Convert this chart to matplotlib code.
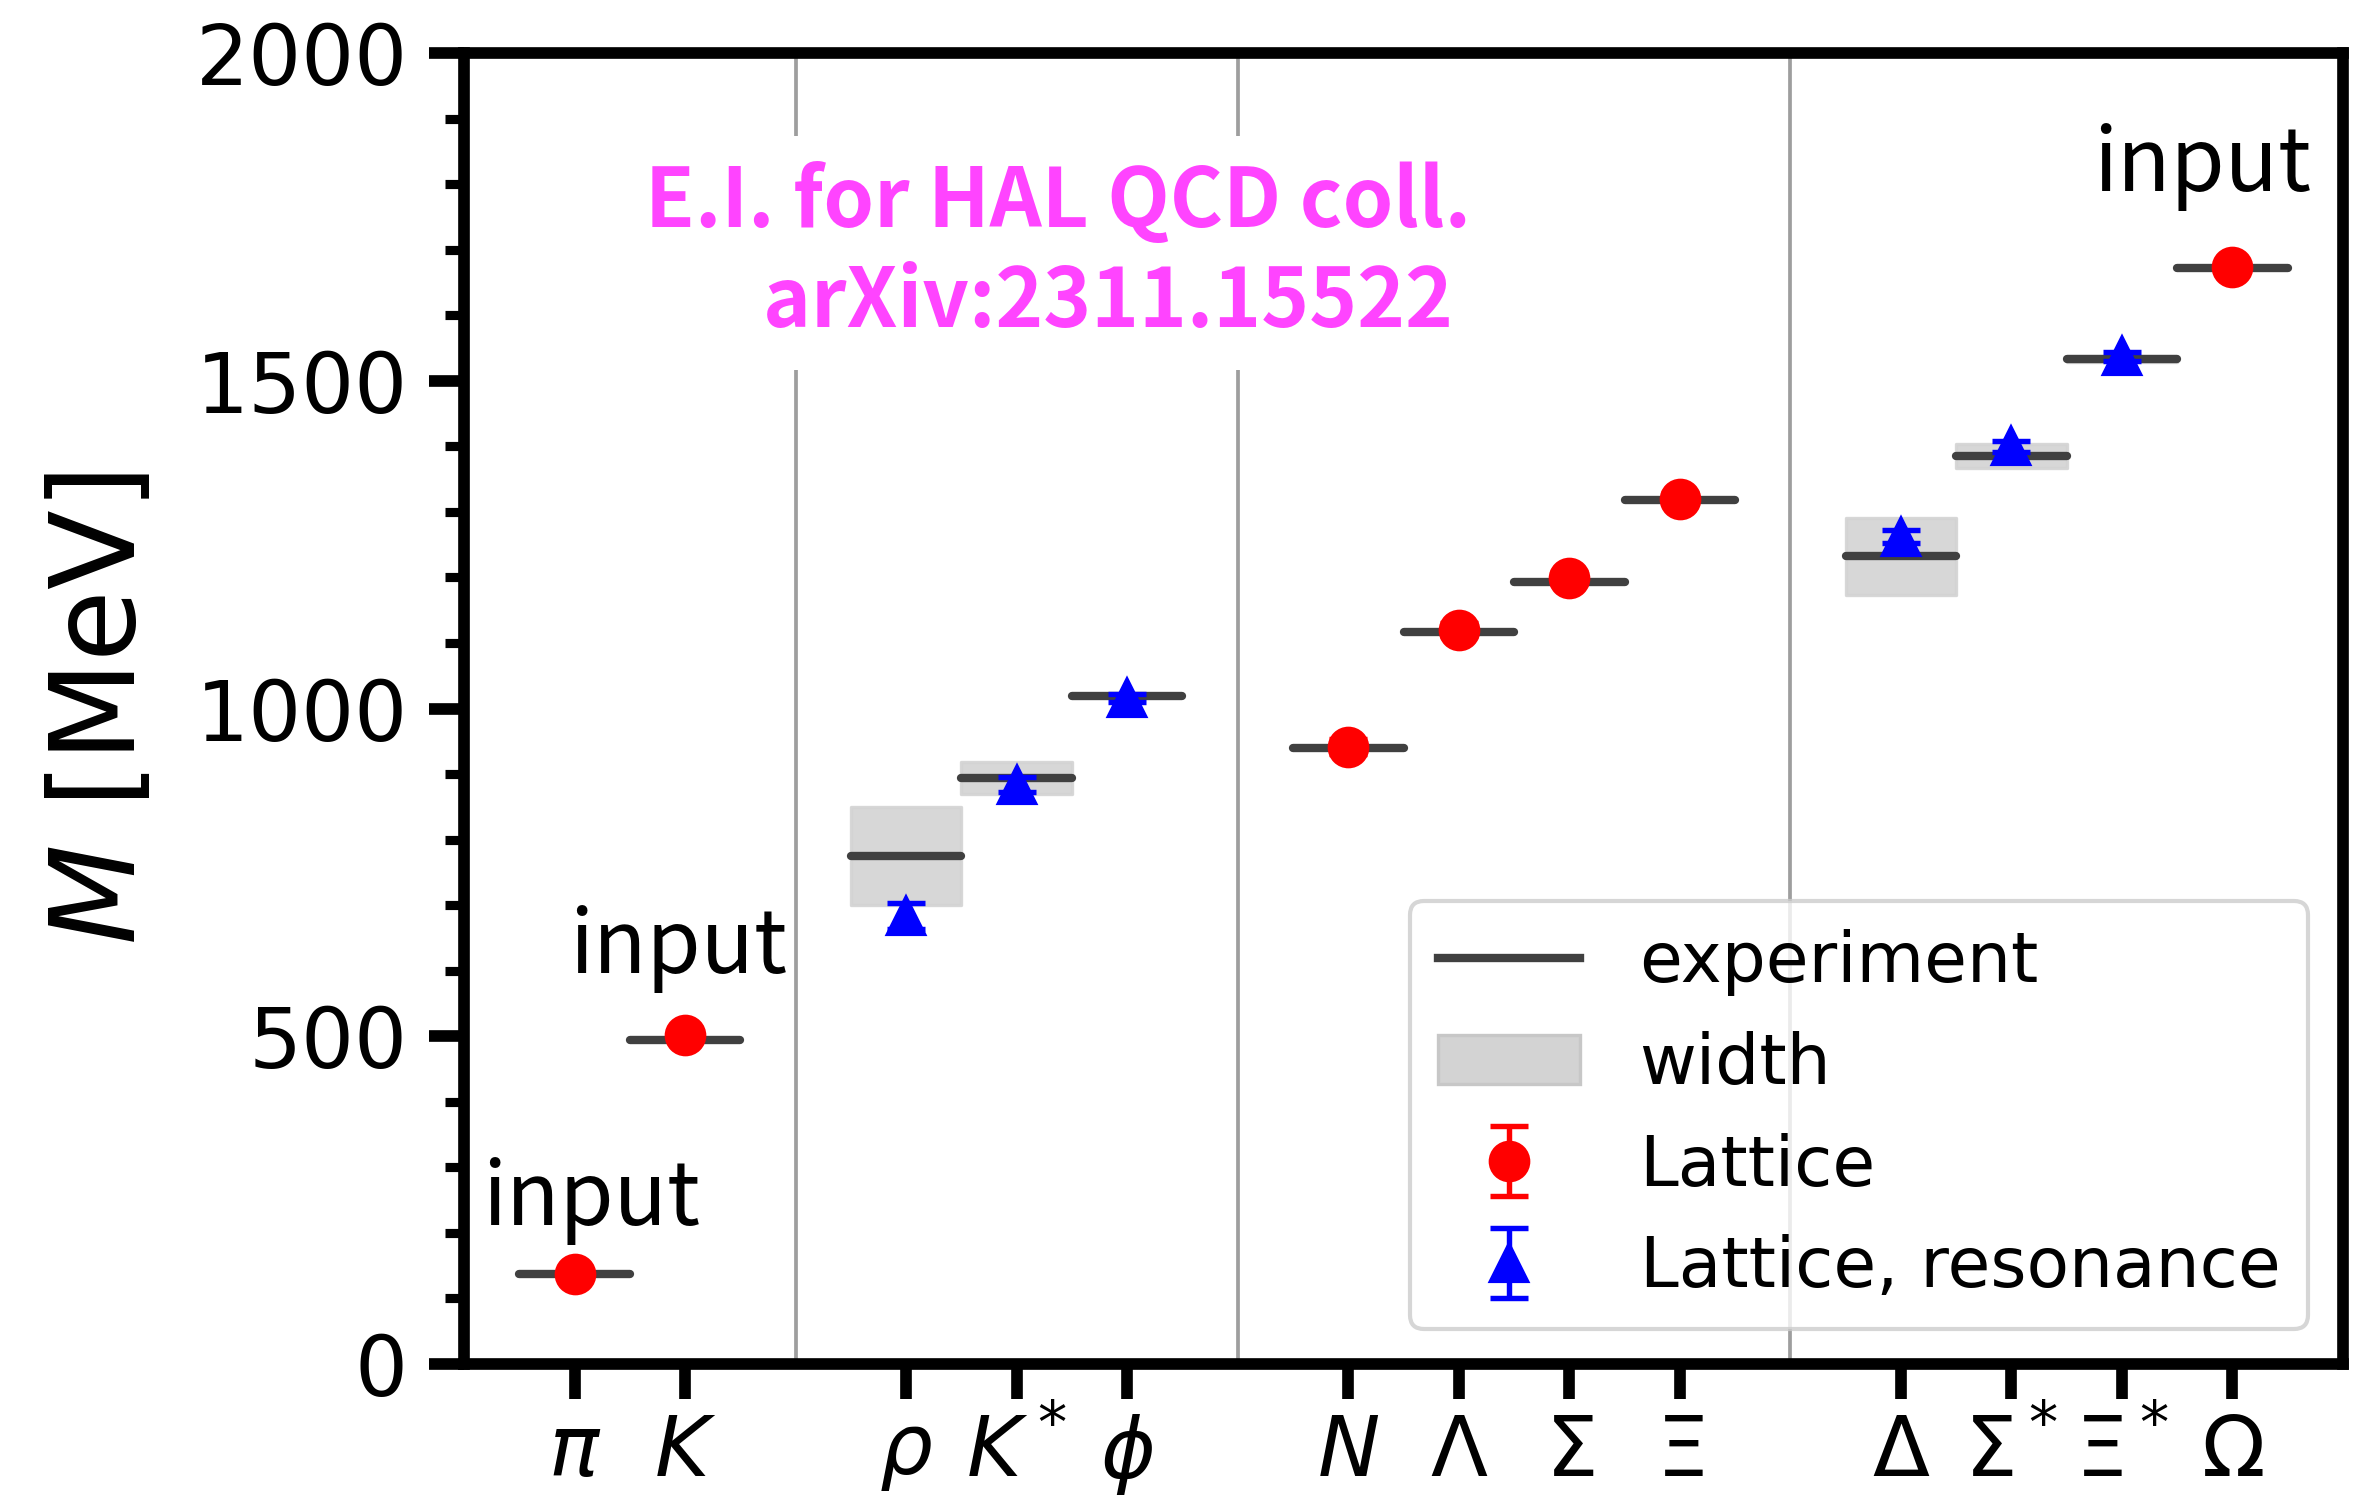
import matplotlib
matplotlib.use("Agg")
import matplotlib.pyplot as plt
from matplotlib.lines import Line2D
from matplotlib.patches import Patch
import numpy as np

# hadron labels and their x slots (gaps between groups)
labels = [r'$\pi$', r'$K$', r'$\rho$', r'$K^*$', r'$\phi$',
          r'$N$', r'$\Lambda$', r'$\Sigma$', r'$\Xi$',
          r'$\Delta$', r'$\Sigma^*$', r'$\Xi^*$', r'$\Omega$']
xpos = [0, 1, 3, 4, 5, 7, 8, 9, 10, 12, 13, 14, 15]
separators = [2, 6, 11]

# experimental masses [MeV]
m_exp = [138, 495, 775, 894, 1019, 939, 1116, 1193, 1318, 1232, 1385, 1533, 1672]
# decay widths [MeV] (0 for stable)
gamma = [0, 0, 149, 50, 4.3, 0, 0, 0, 0, 117, 36, 9.1, 0]

# lattice, stable states
lat_x = [0, 1, 7, 8, 9, 10, 15]
lat_m = [137, 502, 942, 1120, 1199, 1320, 1674]
lat_err = [1, 1, 12, 10, 9, 8, 3]

# lattice, resonances
res_x = [3, 4, 5, 12, 13, 14]
res_m = [683, 884, 1016, 1262, 1400, 1537]
res_err = [20, 12, 6, 10, 8, 7]

# "input" annotations (x, y)
inp_x = [0.15, 0.94, 14.73]
inp_y = [250, 635, 1828]

fig = plt.figure(figsize=(2363 / 300, 1496 / 300), dpi=300)
ax = fig.add_axes([0.1964, 0.0882, 0.9915 - 0.1964, 0.9646 - 0.0882])

for s in separators:
    ax.axvline(s, color='0.62', lw=0.9, zorder=0)

for x, m, g in zip(xpos, m_exp, gamma):
    if g > 0:
        ax.fill_between([x - 0.5, x + 0.5], m - g / 2, m + g / 2,
                        color='lightgray', alpha=0.9, lw=0.8, zorder=1)
    ax.plot([x - 0.5, x + 0.5], [m, m], color='0.25', lw=2.0,
            solid_capstyle='round', zorder=2)

ax.errorbar(lat_x, lat_m, yerr=lat_err, fmt='o', color='red', ms=9,
            capsize=4.5, elinewidth=1.3, capthick=1.3, zorder=4)
ax.errorbar(res_x, res_m, yerr=res_err, fmt='^', color='blue', ms=8.5,
            capsize=4.5, elinewidth=1.3, capthick=1.3, zorder=4)

for x, y in zip(inp_x, inp_y):
    ax.text(x, y, 'input', ha='center', va='center', fontsize=21,
            family=['Noto Sans CJK JP', 'DejaVu Sans'])

ax.text(8.11, 1695, 'E.I. for HAL QCD coll.\narXiv:2311.15522 ',
        ha='right', va='center', multialignment='right', fontsize=19.5,
        color='#ff44ff', fontweight='bold', linespacing=1.25,
        family=['Noto Sans CJK JP', 'DejaVu Sans'],
        bbox=dict(facecolor='white', edgecolor='none', pad=6), zorder=5)

ax.set_xlim(-1, 16)
ax.set_ylim(0, 2000)
ax.set_xticks(xpos)
ax.set_xticklabels(labels)
ax.set_yticks(np.arange(0, 2001, 500))
ax.set_yticks(np.arange(0, 2001, 100), minor=True)
ax.tick_params(axis='x', labelsize=20, length=8.5, width=2.8, pad=3)
ax.tick_params(axis='y', which='major', labelsize=20, length=8.5, width=2.8, pad=5)
ax.tick_params(axis='y', which='minor', length=4.5, width=2.2)
for sp in ax.spines.values():
    sp.set_linewidth(2.8)

ax.set_ylabel(r'$M$ [MeV]', fontsize=28)
ax.yaxis.set_label_coords(-0.162, 0.5)

handles = [Line2D([], [], color='0.25', lw=2.0),
           Patch(facecolor='lightgray', edgecolor='0.78', lw=0.8),
           ax.containers[0], ax.containers[1]]
ax.legend(handles, ['experiment', 'width', 'Lattice', 'Lattice, resonance'],
          loc='lower right', fontsize=16.7, handlelength=2.05,
          handletextpad=0.85)

fig.savefig('out.png', dpi=300)
